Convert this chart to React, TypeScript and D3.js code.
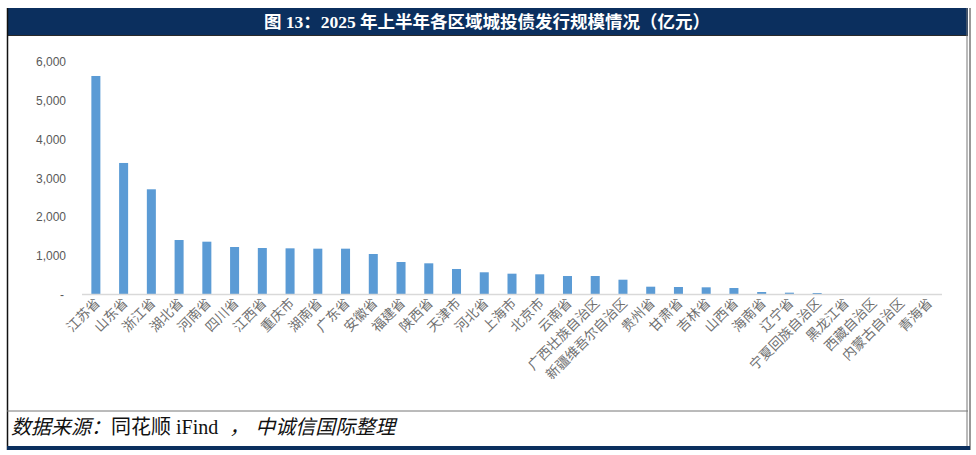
import React from "react";
import * as d3 from "d3";

const categories = [
  "江苏省", "山东省", "浙江省", "湖北省", "河南省", "四川省", "江西省", "重庆市",
  "湖南省", "广东省", "安徽省", "福建省", "陕西省", "天津市", "河北省", "上海市",
  "北京市", "云南省", "广西壮族自治区", "新疆维吾尔自治区", "贵州省", "甘肃省",
  "吉林省", "山西省", "海南省", "辽宁省", "宁夏回族自治区", "黑龙江省", "西藏自治区",
  "内蒙古自治区", "青海省",
];
const values = [
  5627, 3387, 2709, 1403, 1360, 1223, 1197, 1189,
  1180, 1180, 1043, 837, 803, 657, 572, 536,
  520, 476, 476, 381, 201, 193,
  185, 167, 64, 47, 39, 8, 5,
  5, 3,
];
const yTicks = [0, 1000, 2000, 3000, 4000, 5000, 6000];
const title = "图 13：2025 年上半年各区域城投债发行规模情况（亿元）";

const W = 976;
const H = 455;

export default function App() {
  const x = d3
    .scaleBand<string>()
    .domain(categories)
    .range([82, 942])
    .paddingInner(0.675)
    .paddingOuter(0.3375);
  const y = d3.scaleLinear().domain([0, 6000]).range([294.5, 61.5]);
  const fmt = d3.format(",");
  const navy = "#0b2f5e";

  return (
    <div style={{ position: "absolute", left: 0, top: 0 }}>
      <svg width={W} height={H} viewBox={`0 0 ${W} ${H}`} style={{ display: "block", background: "#fff" }}>
        {/* title bar */}
        <rect x={7} y={8} width={961} height={27} fill={navy} />
        <line x1={7} x2={968} y1={35.5} y2={35.5} stroke="#2a2a2a" strokeWidth={1} />
        <text
          x={487}
          y={28}
          textAnchor="middle"
          fill="#fff"
          fontFamily="'Liberation Serif','Noto Sans CJK SC',serif"
          fontWeight="bold"
          fontSize={17.5}
        >
          {title}
        </text>

        {/* frame */}
        <line x1={7.5} x2={7.5} y1={8} y2={450} stroke="#111" strokeWidth={1.5} />
        <line x1={967} x2={967} y1={8} y2={450} stroke="#777" strokeWidth={1} />
        <line x1={970} x2={970} y1={8} y2={450} stroke="#777" strokeWidth={1.5} />
        <line x1={7} x2={968} y1={411} y2={411} stroke="#777" strokeWidth={1} />
        <rect x={7} y={446} width={963} height={4} fill={navy} />

        {/* y axis labels */}
        {yTicks.map((t) => (
          <text
            key={t}
            x={t === 0 ? 64 : 66}
            y={y(t) + 4.5}
            textAnchor="end"
            fill="#595959"
            fontFamily="'Liberation Sans','DejaVu Sans',sans-serif"
            fontSize={12}
          >
            {t === 0 ? "-" : fmt(t)}
          </text>
        ))}

        {/* bars */}
        {categories.map((c, i) => (
          <rect
            key={c}
            x={x(c)}
            y={y(values[i])}
            width={x.bandwidth()}
            height={y(0) - y(values[i])}
            fill="#5b9bd5"
          />
        ))}

        {/* baseline */}
        <line x1={82} x2={942} y1={y(0)} y2={y(0)} stroke="#d9d9d9" strokeWidth={1.5} />

        {/* x labels */}
        {categories.map((c) => {
          const cx = (x(c) as number) + x.bandwidth() / 2;
          return (
            <text
              key={c}
              transform={`translate(${cx + 5},${304}) rotate(-45)`}
              textAnchor="end"
              fill="#707070"
              fontFamily="'Noto Sans CJK SC',sans-serif"
              fontSize={13.5}
            >
              {c}
            </text>
          );
        })}

        {/* source */}
        <text x={11} y={434} fontSize={20} fill="#111" fontFamily="'Liberation Serif','Noto Sans CJK SC',serif">
          <tspan fontStyle="italic">数据来源：</tspan>
          <tspan>同花顺 iFind </tspan>
          <tspan fontStyle="italic" dx={6}>，</tspan>
          <tspan fontStyle="italic" dx={6}>中诚信国际整理</tspan>
        </text>
      </svg>
    </div>
  );
}
